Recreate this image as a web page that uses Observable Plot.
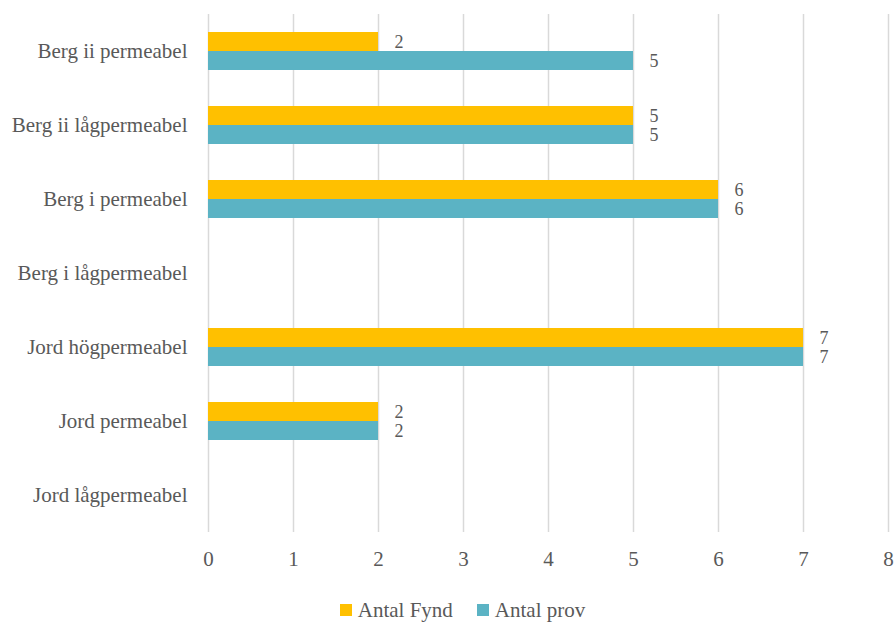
<!DOCTYPE html>
<html>
<head>
<meta charset="utf-8">
<script src="https://cdn.jsdelivr.net/npm/d3@7"></script>
<script src="https://cdn.jsdelivr.net/npm/@observablehq/plot@0.6"></script>
<style>
  html, body { margin: 0; padding: 0; background: #fff; }
  #chart { width: 895px; }
  .legend {
    display: flex; justify-content: center; align-items: center;
    height: 40px; font-family: "Liberation Serif", serif; font-size: 21px; color: #595959;
    padding-left: 30px;
  }
  .legend .item { display: flex; align-items: center; margin: 0 12px; }
  .legend .sw { width: 12px; height: 12px; margin-right: 6px; }
</style>
</head>
<body>
<div id="chart"></div>
<script>
// Categories, top to bottom
const categories = [
  "Berg ii permeabel",
  "Berg ii lågpermeabel",
  "Berg i permeabel",
  "Berg i lågpermeabel",
  "Jord högpermeabel",
  "Jord permeabel",
  "Jord lågpermeabel"
];
// Series values (null = no bar)
const antalFynd = [2, 5, 6, null, 7, 2, null];
const antalProv = [5, 5, 6, null, 7, 2, null];
const seriesNames = ["Antal Fynd", "Antal prov"];
const seriesColors = ["#ffc000", "#5bb3c4"];
const xTicks = [0, 1, 2, 3, 4, 5, 6, 7, 8];

const fynd = categories.map((c, i) => ({category: c, value: antalFynd[i]})).filter(d => d.value != null);
const prov = categories.map((c, i) => ({category: c, value: antalProv[i]})).filter(d => d.value != null);

const textColor = "#595959";
const font = "Liberation Serif";

const chart = Plot.plot({
  width: 895,
  height: 590,
  marginLeft: 208,
  marginRight: 7,
  marginTop: 14,
  marginBottom: 58,
  style: {fontFamily: font, fontSize: "21px", color: textColor, background: "#fff", overflow: "visible"},
  x: {domain: [0, 8]},
  y: {domain: categories, padding: 0},
  marks: [
    Plot.gridX(xTicks, {stroke: "#d9d9d9", strokeOpacity: 1, strokeWidth: 1.5}),
    Plot.barX(fynd, {x: "value", y: "category", fill: seriesColors[0], insetTop: 18, insetBottom: 37}),
    Plot.barX(prov, {x: "value", y: "category", fill: seriesColors[1], insetTop: 37, insetBottom: 18}),
    Plot.text(fynd, {x: "value", y: "category", text: d => String(d.value), dy: -9.5, dx: 16, textAnchor: "start", fill: textColor, fontSize: 18}),
    Plot.text(prov, {x: "value", y: "category", text: d => String(d.value), dy: 9.5, dx: 16, textAnchor: "start", fill: textColor, fontSize: 18}),
    Plot.axisX(xTicks, {tickSize: 0, tickPadding: 19, fontSize: 21, label: null, fill: textColor}),
    Plot.axisY({tickSize: 0, tickPadding: 21, fontSize: 21, label: null, fill: textColor})
  ]
});
document.getElementById("chart").appendChild(chart);

// Legend below the chart
const legend = document.createElement("div");
legend.className = "legend";
seriesNames.forEach((name, i) => {
  const item = document.createElement("div");
  item.className = "item";
  const sw = document.createElement("span");
  sw.className = "sw";
  sw.style.background = seriesColors[i];
  const label = document.createElement("span");
  label.textContent = name;
  item.appendChild(sw);
  item.appendChild(label);
  legend.appendChild(item);
});
document.getElementById("chart").appendChild(legend);
</script>
</body>
</html>
